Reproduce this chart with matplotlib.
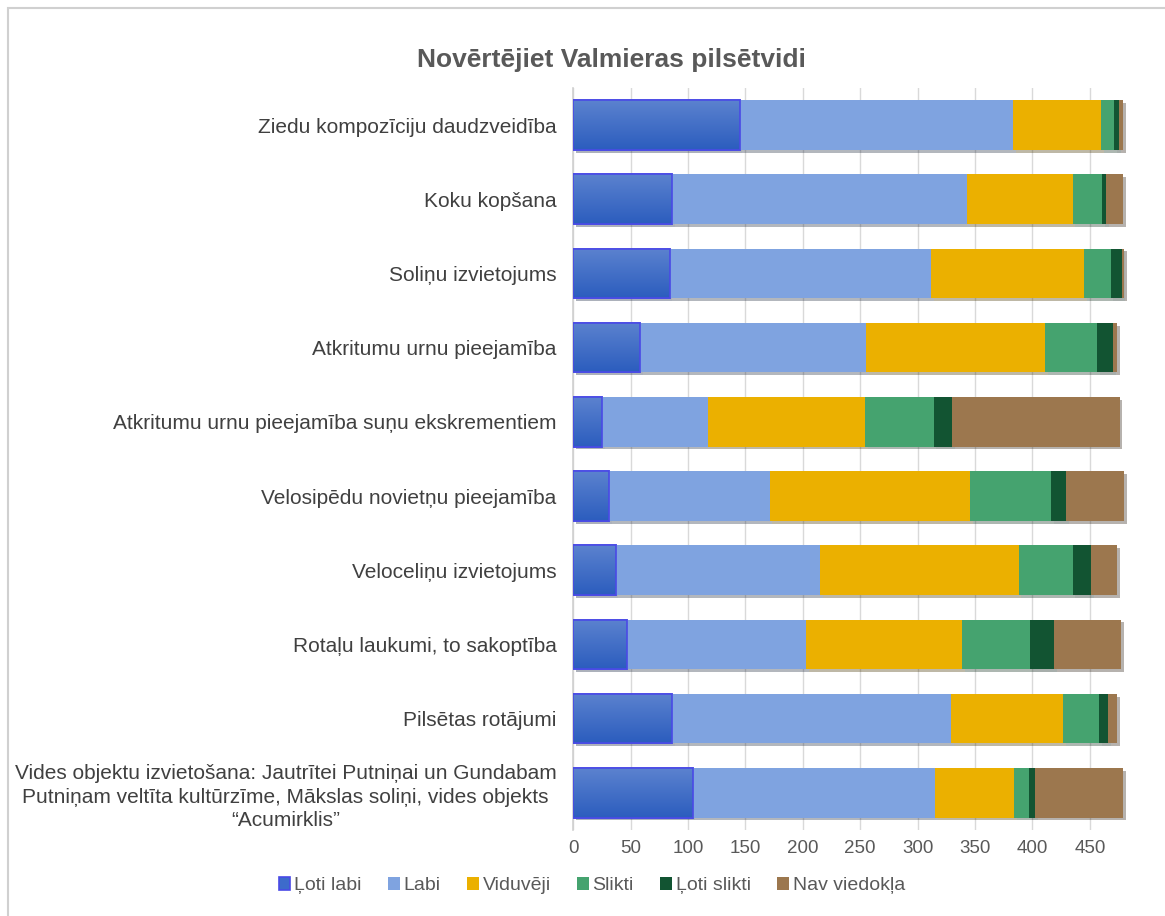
import numpy as np
import matplotlib.pyplot as plt
from matplotlib.patches import Rectangle
from matplotlib.colors import LinearSegmentedColormap
from matplotlib import patheffects as pe

plt.rcParams['font.family'] = ['Liberation Sans', 'DejaVu Sans']

categories = [
    'Ziedu kompozīciju daudzveidība',
    'Koku kopšana',
    'Soliņu izvietojums',
    'Atkritumu urnu pieejamība',
    'Atkritumu urnu pieejamība suņu ekskrementiem',
    'Velosipēdu novietņu pieejamība',
    'Veloceliņu izvietojums',
    'Rotaļu laukumi, to sakoptība',
    'Pilsētas rotājumi',
    'Vides objektu izvietošana: Jautrītei Putniņai un Gundabam\n'
    'Putniņam veltīta kultūrzīme, Mākslas soliņi, vides objekts\n“Acumirklis”',
]
loti_labi = [145, 86, 84, 58, 25, 31, 37, 47, 86, 104]
labi = [238, 257, 228, 197, 92, 140, 178, 156, 243, 211]
viduveji = [77, 92, 133, 156, 137, 175, 173, 136, 98, 69]
slikti = [11, 26, 23, 45, 60, 70, 47, 59, 31, 13]
loti_slikti = [4, 3, 10, 14, 16, 13, 16, 21, 8, 5]
nav_viedokla = [4, 15, 2, 4, 146, 51, 23, 58, 8, 77]

series = [
    ('Ļoti labi', loti_labi, '#3D6BCB'),
    ('Labi', labi, '#7FA3E0'),
    ('Viduvēji', viduveji, '#EBB000'),
    ('Slikti', slikti, '#45A36F'),
    ('Ļoti slikti', loti_slikti, '#125432'),
    ('Nav viedokļa', nav_viedokla, '#9C774E'),
]

fig = plt.figure(figsize=(11.65, 9.16), dpi=100)
ax = fig.add_axes([0.492, 0.094, 0.478, 0.81])

# chart area border
fig.patches.append(Rectangle((8 / 1165, -0.01), 1.02, 1 - 8 / 916 + 0.01,
                             transform=fig.transFigure, fill=False,
                             edgecolor='#d0d0d0', linewidth=1.5))

ypos = range(len(categories))
left = [0] * len(categories)
all_bars = []
for i, (name, vals, col) in enumerate(series):
    edge = '#4A4AE6' if i == 0 else 'none'
    bars = ax.barh(ypos, vals, left=left, height=0.67, color=col,
                   edgecolor=edge, linewidth=1.2 if i == 0 else 0,
                   label=name, zorder=3)
    all_bars.append(bars)
    left = [a + b for a, b in zip(left, vals)]

ax.set_xlim(0, 485)
ax.set_ylim(9.5, -0.5)
ax.set_xticks(range(0, 451, 50))
ax.set_yticks(list(ypos))
ax.set_yticklabels(categories, fontsize=15, color='#404040',
                   multialignment='center', linespacing=1.3)
ax.tick_params(axis='x', length=0, labelsize=13.5, labelcolor='#595959', pad=7)
ax.tick_params(axis='y', length=0, pad=12)
ax.grid(axis='x', color='#d9d9d9', linewidth=1, zorder=0)
ax.set_axisbelow(True)
for s in ['top', 'right', 'bottom']:
    ax.spines[s].set_visible(False)
ax.spines['left'].set_color('#d0d0d0')
ax.spines['left'].set_linewidth(1.2)

fig.text(0.525, 0.935, 'Novērtējiet Valmieras pilsētvidi', ha='center',
         va='center', fontsize=19, fontweight='bold', color='#595959')

fig.legend(loc='center', bbox_to_anchor=(0.508, 0.033), ncol=6, frameon=False,
           fontsize=14, labelcolor='#595959', handlelength=0.6,
           handleheight=0.6, handletextpad=0.2, columnspacing=1.35)

# shadows (after legend so handles stay plain)
shadow = [pe.SimplePatchShadow(offset=(2, -2), alpha=0.35), pe.Normal()]
for bars in all_bars:
    for b in bars:
        b.set_path_effects(shadow)

# gradient fill for the first series
cmap = LinearSegmentedColormap.from_list('g', ['#5B82CF', '#2C5DBE'])
grad = np.linspace(0, 1, 64).reshape(-1, 1)
for b in all_bars[0]:
    x0, y0 = b.get_x(), b.get_y()
    im = ax.imshow(grad, cmap=cmap, aspect='auto', zorder=3.5,
                   extent=(x0, x0 + b.get_width(), y0 + b.get_height(), y0))
    im.set_clip_path(b)
    ax.add_patch(Rectangle((x0, y0), b.get_width(), b.get_height(),
                           fill=False, edgecolor='#4A4AE6', linewidth=1.2,
                           zorder=3.6))
ax.set_xlim(0, 485)
ax.set_ylim(9.5, -0.5)

fig.savefig('out.png', dpi=100)
